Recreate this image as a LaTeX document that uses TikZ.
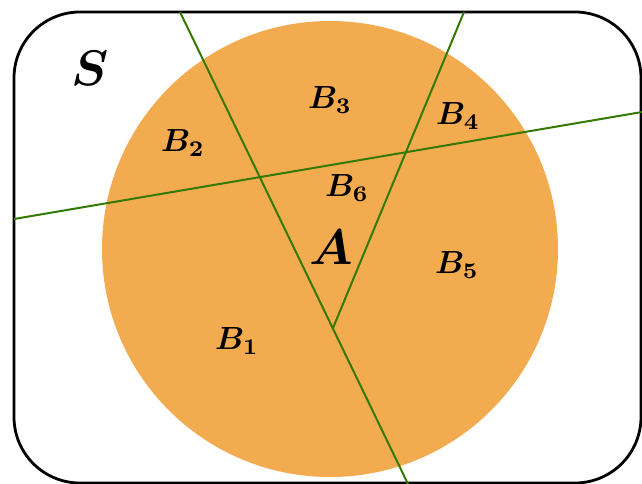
\documentclass[tikz,border=0pt]{standalone}
\definecolor{setorange}{RGB}{243,171,80}
\definecolor{cutgreen}{RGB}{52,122,0}
\begin{document}
\begin{tikzpicture}[x=1pt,y=-1pt,
  cut/.style={draw=cutgreen,line width=2pt},
  blabel/.style={inner sep=0pt,font=\normalsize\boldmath,scale=3.2},
  biglabel/.style={inner sep=0pt,font=\normalsize\boldmath,scale=5.0}]
\useasboundingbox (0,0) rectangle (642,484);
\begin{scope}
\clip (0,0) rectangle (642,484);
\draw[line width=2.8pt,rounded corners=66pt] (14,12) rectangle (641,483);
\fill[setorange] (330,249) circle[radius=228];
\coordinate (t1) at (180,12);
\coordinate (b1) at (408,484);
\coordinate (t2) at (464,12);
\coordinate (m) at (333,328);
\coordinate (l3) at (14,219);
\coordinate (r3) at (645,111.5);
\draw[cut] (t1) -- (b1);
\draw[cut] (t2) -- (m);
\draw[cut] (l3) -- (r3);
\end{scope}
\node[biglabel] (S) at (90,68) {$S$};
\node[biglabel] (A) at (331,247) {$A$};
\node[blabel] (B1) at (237,341) {$B_1$};
\node[blabel] (B2) at (183,143) {$B_2$};
\node[blabel] (B3) at (330,100) {$B_3$};
\node[blabel] (B4) at (458,116) {$B_4$};
\node[blabel] (B5) at (457,265) {$B_5$};
\node[blabel] (B6) at (347,188) {$B_6$};
\end{tikzpicture}
\end{document}
